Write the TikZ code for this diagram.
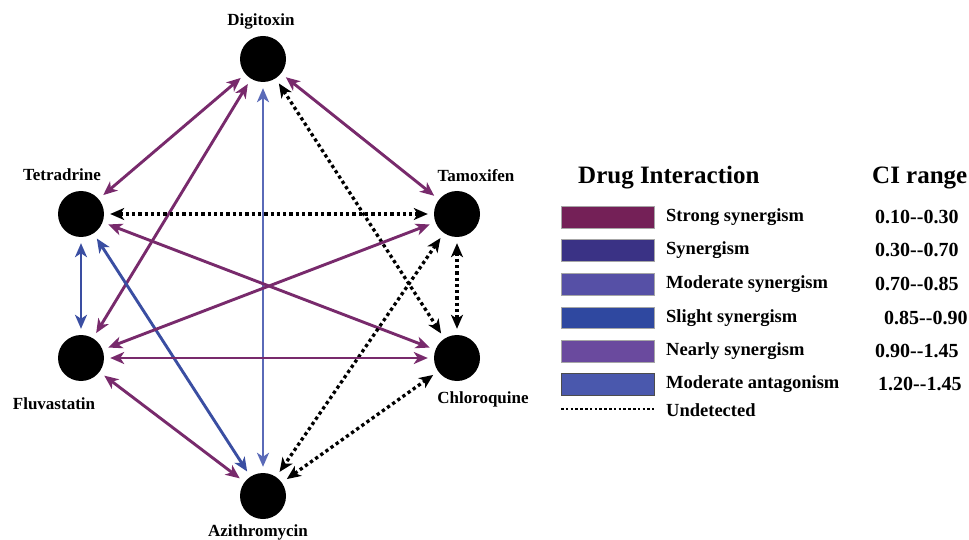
\documentclass[tikz,border=0pt]{standalone}
\usepackage{fontspec}
\setmainfont{Liberation Serif}
\usetikzlibrary{arrows.meta}
\definecolor{cStrong}{HTML}{742057}
\definecolor{cSyn}{HTML}{3A3285}
\definecolor{cMod}{HTML}{5650A6}
\definecolor{cSlight}{HTML}{2F48A0}
\definecolor{cNearly}{HTML}{6A4A9E}
\definecolor{cAnt}{HTML}{4A58AD}
\definecolor{ePurple}{HTML}{782A6C}
\definecolor{eBlue}{HTML}{3A4EA2}
\definecolor{eBlueL}{HTML}{5A6AB8}
\begin{document}
\begin{tikzpicture}[x=1pt,y=-1pt,
  drug/.style={circle,fill=black,minimum size=46pt,inner sep=0pt},
  lbl/.style={font=\bfseries\fontsize{17}{19}\selectfont,inner sep=0pt},
  link/.style={line width=2.9pt,
    {Stealth[length=14pt,width=12pt,inset=4pt]}-{Stealth[length=14pt,width=12pt,inset=4pt]},
    shorten <=6pt,shorten >=6pt},
  undet/.style={link,black,line width=3.3pt,dash pattern=on 3.3pt off 3pt},
  legtxt/.style={font=\bfseries\fontsize{18.5}{20}\selectfont,anchor=west,inner sep=0pt},
  citxt/.style={font=\bfseries\fontsize{20}{22}\selectfont,anchor=west,inner sep=0pt},
  head/.style={font=\bfseries\fontsize{25}{27}\selectfont,anchor=west,inner sep=0pt},
  swatch/.style={draw=black!35,line width=0.6pt}
]
\useasboundingbox (0,0) rectangle (969,540);
\fill[white] (0,0) rectangle (969,540);

% drugs
\node[drug] (dig) at (263,59) {};
\node[drug] (tet) at (81,214) {};
\node[drug] (tam) at (457,214) {};
\node[drug] (flu) at (81,358) {};
\node[drug] (chl) at (457,358) {};
\node[drug] (azi) at (263,496) {};

\node[lbl] (ldig) at (261,21) {Digitoxin};
\node[lbl] (ltet) at (62,175) {Tetradrine};
\node[lbl] (ltam) at (476,176) {Tamoxifen};
\node[lbl] (lflu) at (54,404) {Fluvastatin};
\node[lbl] (lchl) at (483,399) {Chloroquine};
\node[lbl] (lazi) at (258,532) {Azithromycin};

% connectors
\draw[link,ePurple] (dig) -- (tet);
\draw[link,ePurple] (dig) -- (tam);
\draw[link,ePurple] (dig) -- (flu);
\draw[link,eBlueL] (dig) -- (azi);
\draw[undet] (dig) -- (chl);
\draw[undet] (tet) -- (tam);
\draw[link,eBlue] (tet) -- (flu);
\draw[link,eBlue] (tet) -- (azi);
\draw[link,ePurple] (tet) -- (chl);
\draw[link,ePurple] (tam) -- (flu);
\draw[undet] (tam) -- (chl);
\draw[undet] (tam) -- (azi);
\draw[link,ePurple] (flu) -- (chl);
\draw[link,ePurple] (flu) -- (azi);
\draw[undet] (chl) -- (azi);

% legend
\node[head] (h1) at (578,178) {Drug Interaction};
\node[head] (h2) at (872,178) {CI range};

\draw[swatch,fill=cStrong] (561,206) rectangle (654,228);
\draw[swatch,fill=cSyn] (561,239) rectangle (654,261);
\draw[swatch,fill=cMod] (561,273) rectangle (654,295);
\draw[swatch,fill=cSlight] (561,307) rectangle (654,328);
\draw[swatch,fill=cNearly] (561,340) rectangle (654,362);
\draw[swatch,draw=black!70,fill=cAnt] (561,373) rectangle (654,395);
\coordinate (u1) at (561,409);
\coordinate (u2) at (654,409);
\draw[black,line width=2.4pt,dash pattern=on 2.5pt off 2.3pt] (u1) -- (u2);

\node[legtxt] (t1) at (666,217) {Strong synergism};
\node[legtxt] (t2) at (666,250) {Synergism};
\node[legtxt] (t3) at (666,284) {Moderate synergism};
\node[legtxt] (t4) at (666,318) {Slight synergism};
\node[legtxt] (t5) at (666,351) {Nearly synergism};
\node[legtxt] (t6) at (666,384) {Moderate antagonism};
\node[legtxt] (t7) at (666,410) {Undetected};

\node[citxt] (c1) at (875,217) {0.10-\kern0pt-0.30};
\node[citxt] (c2) at (875,250) {0.30-\kern0pt-0.70};
\node[citxt] (c3) at (875,284) {0.70-\kern0pt-0.85};
\node[citxt] (c4) at (884,318) {0.85-\kern0pt-0.90};
\node[citxt] (c5) at (875,351) {0.90-\kern0pt-1.45};
\node[citxt] (c6) at (878,384) {1.20-\kern0pt-1.45};
\end{tikzpicture}
\end{document}
